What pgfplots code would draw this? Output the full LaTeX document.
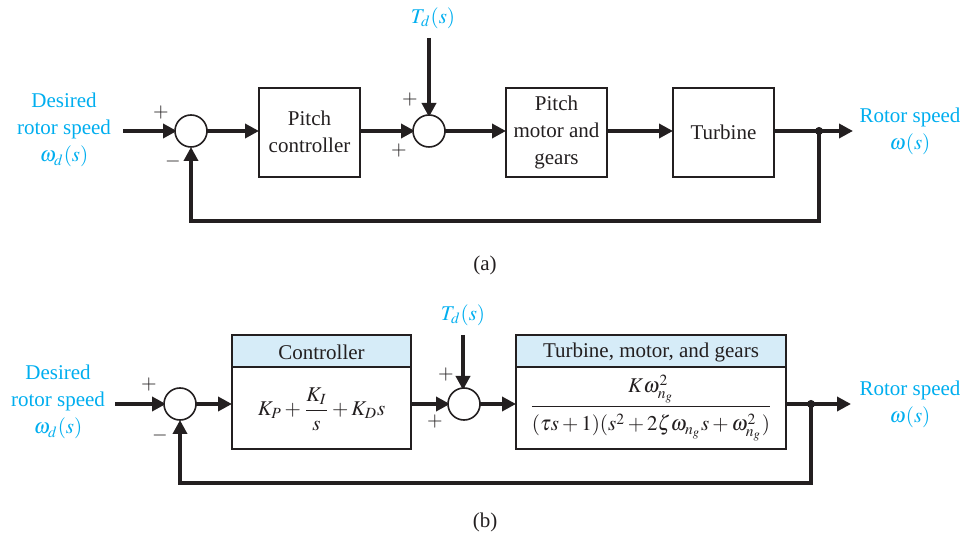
\documentclass[border=0pt]{standalone}
\usepackage{mathptmx}
\usepackage{amsmath}
\usepackage{fontspec}
\setmainfont{Liberation Serif}
\usepackage{pgfplots}
\pgfplotsset{compat=1.18}
\usetikzlibrary{arrows.meta}

\definecolor{ink}{RGB}{35,31,32}
\definecolor{sig}{RGB}{0,174,239}
\definecolor{hdr}{RGB}{214,236,248}

\begin{document}
\fontsize{10.5}{13.5}\selectfont
\begin{tikzpicture}[
  wire/.style={ink,line width=2pt},
  arr/.style={wire,-{Triangle[length=7pt,width=7pt]}},
  blk/.style={ink,line width=1.4pt},
  sum/.style={circle,draw=ink,line width=0.8pt,minimum size=16pt,inner sep=0pt,fill=white},
  lbl/.style={text=sig,align=center,font=\fontsize{10.5}{13.5}\selectfont},
  txt/.style={text=ink,align=center,font=\fontsize{10.5}{13.5}\selectfont},
  sgn/.style={text=ink,font=\fontsize{10}{12}\selectfont},
]
\begin{axis}[
  x=0.5pt, y=0.5pt,
  xmin=0, xmax=973, ymin=0, ymax=537,
  y dir=reverse,
  hide axis, clip=false, scale only axis,
]
\path (axis cs:0,0) rectangle (axis cs:973,537);

% ---------- (a) ----------
\addplot[arr] coordinates {(123,131) (177,131)};
\addplot[arr] coordinates {(207,131) (259,131)};
\addplot[arr] coordinates {(360,131) (415,131)};
\addplot[arr] coordinates {(429,38) (429,117)};
\addplot[arr] coordinates {(445,131) (506,131)};
\addplot[arr] coordinates {(607,131) (673,131)};
\addplot[arr] coordinates {(774,131) (853,131)};
\addplot[arr] coordinates {(819,131) (819,221) (191,221) (191,147)};
\addplot[only marks,mark=*,mark size=1.8pt,ink] coordinates {(819,131)};

\node[sum] at (axis cs:191,131) {};
\node[sum] at (axis cs:429,131) {};

\draw[blk] (axis cs:259,88) rectangle (axis cs:360,177);
\draw[blk] (axis cs:506,88) rectangle (axis cs:607,177);
\draw[blk] (axis cs:673,88) rectangle (axis cs:774,177);

\node[txt] at (axis cs:309.5,132) {Pitch\\controller};
\node[txt] at (axis cs:556.5,132) {Pitch\\motor and\\gears};
\node[txt] at (axis cs:723.5,132) {Turbine};

\node[lbl] at (axis cs:64,130) {Desired\\rotor speed\\$\omega_d(s)$};
\node[lbl] at (axis cs:910,131) {Rotor speed\\$\omega(s)$};
\node[lbl] at (axis cs:433,18) {$T_d(s)$};

\node[sgn] at (axis cs:161,113) {$+$};
\node[sgn] at (axis cs:173,162) {$-$};
\node[sgn] at (axis cs:410,100) {$+$};
\node[sgn] at (axis cs:399,151) {$+$};

\node[txt] at (axis cs:485,265) {(a)};

% ---------- (b) ----------
\addplot[arr] coordinates {(115,404) (166,404)};
\addplot[arr] coordinates {(196,404) (232,404)};
\addplot[arr] coordinates {(411,404) (450,404)};
\addplot[arr] coordinates {(463,335) (463,390)};
\addplot[arr] coordinates {(480,404) (516,404)};
\addplot[arr] coordinates {(786,404) (851,404)};
\addplot[arr] coordinates {(811,404) (811,483) (180,483) (180,420)};
\addplot[only marks,mark=*,mark size=1.8pt,ink] coordinates {(811,404)};

\node[sum] at (axis cs:180,404) {};
\node[sum] at (axis cs:464,404) {};

\filldraw[blk,fill=hdr] (axis cs:232,335) rectangle (axis cs:411,367);
\draw[blk] (axis cs:232,367) rectangle (axis cs:411,449);
\filldraw[blk,fill=hdr] (axis cs:516,335) rectangle (axis cs:786,367);
\draw[blk] (axis cs:516,367) rectangle (axis cs:786,449);

\node[txt] at (axis cs:321.5,352) {Controller};
\node[txt] at (axis cs:651,352) {Turbine, motor, and gears};
\node[txt] at (axis cs:321.5,409) {$K_P+\dfrac{K_I}{s}+K_D s$};
\node[txt] at (axis cs:651,408) {$\dfrac{K\omega_{n_g}^2\rule[-3pt]{0pt}{3pt}}{\rule{0pt}{11pt}(\tau s+1)(s^2+2\zeta\omega_{n_g}s+\omega_{n_g}^2)}$};

\node[lbl] at (axis cs:58,402) {Desired\\rotor speed\\$\omega_d(s)$};
\node[lbl] at (axis cs:910,404) {Rotor speed\\$\omega(s)$};
\node[lbl] at (axis cs:463,315) {$T_d(s)$};

\node[sgn] at (axis cs:149,385) {$+$};
\node[sgn] at (axis cs:160,435) {$-$};
\node[sgn] at (axis cs:446,375) {$+$};
\node[sgn] at (axis cs:435,422) {$+$};

\node[txt] at (axis cs:485,522) {(b)};
\end{axis}
\end{tikzpicture}
\end{document}
